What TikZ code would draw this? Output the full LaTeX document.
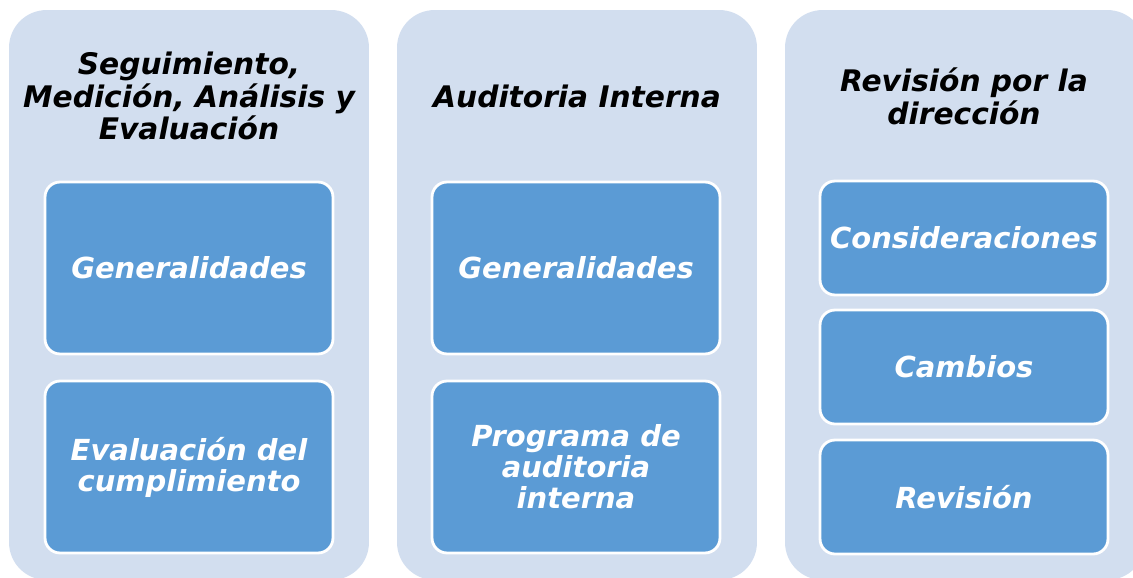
\documentclass[tikz,border=0pt]{standalone}
\usepackage{fontspec}
\setmainfont{DejaVu Sans}
\usetikzlibrary{positioning}
\definecolor{panelblue}{HTML}{D2DEEF}
\definecolor{boxblue}{HTML}{5B9BD5}

\begin{document}
\begin{tikzpicture}[
      x=0.02cm, y=-0.02cm,
      panel/.style={fill=panelblue, rounded corners=0.75cm, minimum width=7.2cm, minimum height=11.4cm, inner sep=0pt},
      item/.style={fill=boxblue, draw=white, line width=1.6pt, rounded corners=0.3cm, minimum width=5.76cm,
        minimum height=3.44cm, inner sep=0pt, align=center, text=white,
        font=\fontsize{16.5}{17.6}\selectfont\bfseries\itshape},
      smallitem/.style={item, minimum height=2.28cm},
      title/.style={align=center, inner sep=0pt, font=\fontsize{16.9}{18.7}\selectfont\bfseries\itshape}
    ]
    \useasboundingbox (0,0) rectangle (1133,578);
    \clip (0,0) rectangle (1133,578);

    % Background panels
    \node[panel] (seg) at (189,295) {};
    \node[panel] (aud) at (577,295) {};
    \node[panel] (rev) at (965,295) {};

    % Titles
    \node[title] (segtitle) at (189,96) {Seguimiento,\\Medición, Análisis y\\Evaluación};
    \node[title] (audtitle) at (577,96) {Auditoria Interna};
    \node[title] (revtitle) at (964,96) {Revisión por la\\dirección};

    % Seguimiento column
    \node[item] (seggen) at (189,268) {Generalidades};
    \node[item] (segeval) at (189,467) {Evaluación del\\cumplimiento};

    % Auditoria column
    \node[item] (audgen) at (576,268) {Generalidades};
    \node[item] (audprog) at (576,467) {Programa de\\auditoria\\interna};

    % Revision column
    \node[smallitem] (revcons) at (964,238) {Consideraciones};
    \node[smallitem] (revcamb) at (964,367) {Cambios};
    \node[smallitem] (revrev) at (964,497) {Revisión};
\end{tikzpicture}
\end{document}
